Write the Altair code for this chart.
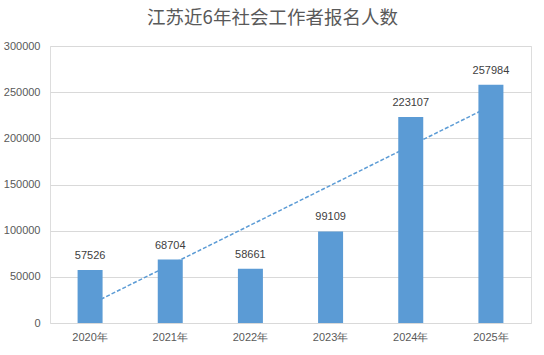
import altair as alt
import pandas as pd

years = ["2020年", "2021年", "2022年", "2023年", "2024年", "2025年"]
values = [57526, 68704, 58661, 99109, 223107, 257984]
idx = list(range(len(years)))

df = pd.DataFrame({"year": years, "value": values, "idx": idx})

BLUE = "#5B9BD5"
GRAY = "#595959"
FONT = "Liberation Sans"
W, H = 481, 277
pi = 1 - 25 / (W / 6)

base = alt.Chart(df)

yscale = alt.Scale(domain=[0, 300000], nice=False)
yaxis = alt.Axis(values=[0, 50000, 100000, 150000, 200000, 250000, 300000],
                 format="d", domain=False, ticks=False, labelFont=FONT,
                 labelFontSize=11, labelColor=GRAY, labelPadding=10,
                 gridColor="#D9D9D9", gridWidth=1)

trend = base.transform_regression("idx", "value").mark_line(
    color=BLUE, strokeWidth=1.5, strokeDash=[4, 2]
).encode(
    x=alt.X("idx:Q", scale=alt.Scale(domain=[-0.5, 5.5], nice=False, zero=False), axis=None),
    y=alt.Y("value:Q", scale=yscale, title=None, axis=yaxis),
)

bars = base.mark_bar(color=BLUE).encode(
    x=alt.X("year:N", sort=years, title=None,
            scale=alt.Scale(paddingInner=pi, paddingOuter=pi / 2),
            axis=alt.Axis(labelAngle=0, domain=False, ticks=False, labelFont=FONT,
                          labelFontSize=11, labelColor=GRAY, labelPadding=8)),
    y=alt.Y("value:Q", scale=yscale, title=None, axis=yaxis),
)

labels = base.mark_text(baseline="bottom", dy=-9, font=FONT, fontSize=11, color="#404040").encode(
    x=alt.X("year:N", sort=years),
    y=alt.Y("value:Q", scale=yscale),
    text=alt.Text("value:Q", format="d"),
)

front = alt.layer(bars, labels)

chart = alt.layer(trend, front).resolve_scale(x="independent").properties(
    width=W, height=H,
    padding={"left": 50, "top": 46, "right": 13, "bottom": 32},
    autosize=alt.AutoSizeParams(type="none"),
    title=alt.TitleParams("江苏近6年社会工作者报名人数", font="Noto Sans CJK SC",
                          fontSize=18.5, fontWeight="normal", color=GRAY, anchor="middle",
                          offset=13, dx=-18),
).configure_view(stroke=None).configure(background="white")

chart.save("out.html", embed_options={"renderer": "svg", "actions": False})
